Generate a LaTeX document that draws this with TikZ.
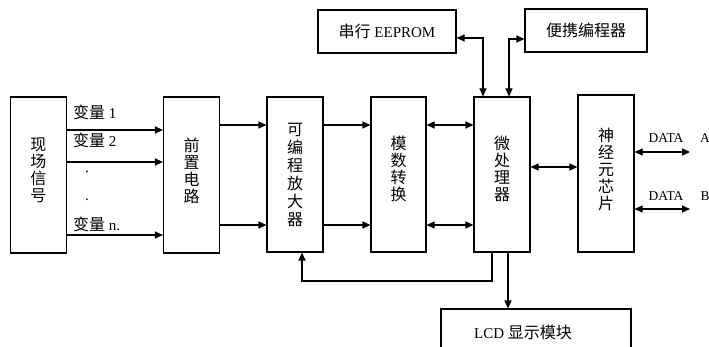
\documentclass[tikz,border=0pt]{standalone}
\usepackage{fontspec}
\setmainfont{Liberation Serif}
\newfontfamily\cjk{Noto Sans CJK SC}
\usetikzlibrary{arrows.meta}
\begin{document}
\begin{tikzpicture}[x=1pt,y=-1pt,
  box/.style={draw,line width=1.1pt,inner sep=0pt,align=center},
  vbox/.style={box,minimum width=56pt,minimum height=156pt},
  vtext/.style={inner sep=0pt,align=center,font=\cjk\fontsize{16}{17}\selectfont},
  hbox/.style={box,minimum height=43pt,font=\fontsize{15}{17}\selectfont},
  lbl/.style={inner sep=0pt,font=\fontsize{15}{17}\selectfont},
  dlbl/.style={inner sep=0pt,font=\fontsize{13.5}{15}\selectfont},
  arr/.style={line width=1.1pt,-{Triangle[length=8pt,width=7pt]}},
  arrb/.style={line width=1.1pt,{Triangle[length=8pt,width=7pt]}-{Triangle[length=8pt,width=7pt]}}]
\clip (0,0) rectangle (709,347);
% boxes
\node[vbox] (sig) at (38.5,175) {};
\node[vbox] (pre) at (191.5,175) {};
\node[vbox,minimum height=155pt] (amp) at (295,174.5) {};
\node[vbox,minimum width=55pt,minimum height=155pt] (ad) at (398.5,174.5) {};
\node[vbox,minimum height=155pt] (mcu) at (502,174.5) {};
\node[vbox,minimum height=157pt] (neu) at (606,173.5) {};
\node[vtext] (sigt) at (38.5,170) {现\\场\\信\\号};
\node[vtext] (pret) at (191.5,171) {前\\置\\电\\路};
\node[vtext,font=\cjk\fontsize{16}{18}\selectfont] (ampt) at (295,174.5) {可\\编\\程\\放\\大\\器};
\node[vtext] (adt) at (398.5,168.5) {模\\数\\转\\换};
\node[vtext] (mcut) at (502,169) {微\\处\\理\\器};
\node[vtext] (neut) at (606,169.5) {神\\经\\元\\芯\\片};
\node[hbox,minimum width=138pt] (ee) at (387,31.5) {{\cjk\fontsize{16}{17}\selectfont 串行} EEPROM};
\node[hbox,minimum width=122pt,font=\cjk\fontsize{16}{17}\selectfont] (pb) at (586,30.5) {便携编程器};
\node[box,minimum width=190pt,minimum height=61pt] (lcd) at (536,339.5) {};
\node[lbl] (lcdt) at (523,332) {LCD {\cjk\fontsize{16}{17}\selectfont 显示模块}};
% input labels
\node[lbl,anchor=west] (v1) at (73,112) {{\cjk\fontsize{16}{17}\selectfont 变量} 1};
\node[lbl,anchor=west] (v2) at (73,140) {{\cjk\fontsize{16}{17}\selectfont 变量} 2};
\node[lbl] (d1) at (87,172) {.};
\node[lbl] (d2) at (87,200) {.};
\node[lbl,anchor=west] (vn) at (73,224) {{\cjk\fontsize{16}{17}\selectfont 变量} n.};
% inputs
\draw[arr] (sig.east |- 0,130) -- (pre.west |- 0,130);
\draw[arr] (sig.east |- 0,162) -- (pre.west |- 0,162);
\draw[arr] (sig.east |- 0,235) -- (pre.west |- 0,235);
% chain
\draw[arr] (pre.east |- 0,125) -- (amp.west |- 0,125);
\draw[arr] (pre.east |- 0,225) -- (amp.west |- 0,225);
\draw[arr] (amp.east |- 0,125) -- (ad.west |- 0,125);
\draw[arr] (amp.east |- 0,225) -- (ad.west |- 0,225);
\draw[arrb] (ad.east |- 0,125) -- (mcu.west |- 0,125);
\draw[arrb] (ad.east |- 0,225) -- (mcu.west |- 0,225);
\draw[arrb] (mcu.east |- 0,167) -- (neu.west |- 0,167);
% data outputs
\coordinate (da) at (690,152);
\coordinate (db) at (690,209);
\draw[arrb] (neu.east |- da) -- (da);
\draw[arrb] (neu.east |- db) -- (db);
\node[dlbl] (dta) at (666,138) {DATA};
\node[dlbl] (la) at (705,138) {A};
\node[dlbl] (dtb) at (666,196) {DATA};
\node[dlbl] (lb) at (705,196) {B};
% top connections
\draw[arrb] (ee.east |- 0,38) -| (mcu.north -| 483,0);
\draw[arrb] (mcu.north -| 509,0) |- (pb.west |- 0,39);
% feedback
\coordinate (fb) at (302,281);
\draw[arr] (mcu.south -| 492,0) |- (fb) -- (amp.south -| fb);
% LCD
\draw[arr] (mcu.south -| 508,0) -- (lcd.north -| 508,0);
\end{tikzpicture}
\end{document}
